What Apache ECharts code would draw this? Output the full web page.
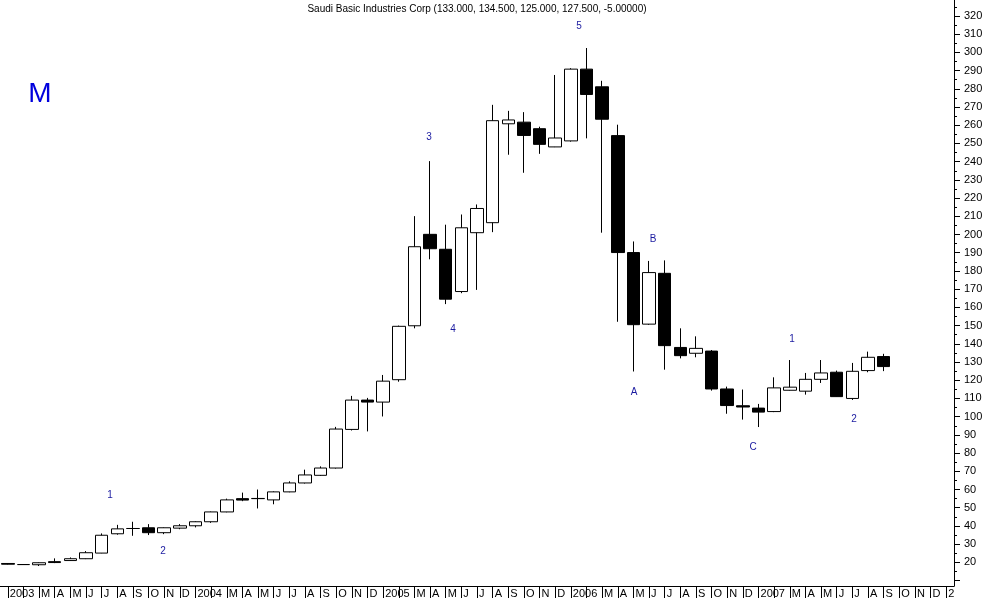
<!DOCTYPE html>
<html><head><meta charset="utf-8">
<script src="https://cdn.jsdelivr.net/npm/echarts@6/dist/echarts.min.js"></script>
<style>html,body{margin:0;padding:0;background:#fff}#c{width:994px;height:599px}</style>
</head><body><div id="c"></div>
<script>
// Monthly categories Jan 2003 .. Jan 2008
const tickLabels = [
  '2003','','M','A','M','J','J','A','S','O','N','D',
  '2004','','M','A','M','J','J','A','S','O','N','D',
  '2005','','M','A','M','J','J','A','S','O','N','D',
  '2006','','M','A','M','J','J','A','S','O','N','D',
  '2007','','M','A','M','J','J','A','S','O','N','D',
  '2008'
];
const months = tickLabels.map((t, i) => (2003 + Math.floor(i / 12)) + '-' + String(i % 12 + 1).padStart(2, '0'));

const openV  = [19.4,18.8,18.7,20.4,21.0,22.0,25.1,35.7,38.6,39.0,36.3,38.8,
                40.1,42.3,47.7,55.0,55.0,54.3,58.7,63.6,67.8,71.8,93.0,109.1,
                108.0,120.3,149.9,200.1,191.9,168.7,201.0,206.5,260.8,261.7,258.1,248.1,
                251.4,290.8,281.1,254.3,190.1,150.8,178.7,138.0,134.8,136.0,115.2,106.0,
                104.7,102.8,114.5,114.0,120.5,124.4,110.0,125.3,133.0];
const closeV = [19.0,18.8,19.8,19.9,22.0,25.3,34.9,38.4,38.6,36.3,39.0,40.1,
                42.3,47.7,54.3,54.2,55.1,58.7,63.6,68.0,71.8,93.2,109.1,108.0,
                119.5,149.6,193.3,192.2,164.5,203.7,214.3,262.5,262.9,254.4,249.5,253.0,
                290.8,276.9,263.3,190.1,150.5,179.1,139.0,133.5,137.5,115.2,106.1,105.3,
                102.5,115.8,116.2,120.5,124.0,111.0,124.9,132.6,127.5];
const lowV   = [18.8,18.6,18.0,19.6,20.8,21.8,25.0,35.2,34.6,35.0,35.5,38.2,
                39.2,41.7,47.5,53.6,49.6,51.9,58.5,63.3,67.5,71.5,92.4,91.9,
                100.1,119.2,148.5,186.4,161.8,167.8,169.6,201.3,243.8,233.9,244.3,248.0,
                251.0,252.8,201.0,152.1,124.8,150.4,125.8,132.0,132.6,114.3,101.6,98.4,
                94.3,102.5,114.3,112.1,118.5,110.8,109.2,124.4,125.0];
const highV  = [19.6,19.0,20.0,22.2,22.7,26.2,35.9,40.6,42.3,41.0,39.2,41.0,
                42.6,47.9,55.0,58.3,60.0,59.0,64.5,70.9,72.7,94.4,111.4,110.3,
                122.9,150.0,210.1,240.3,205.4,211.0,216.5,271.2,267.9,267.2,259.2,287.6,
                291.3,302.4,284.4,260.3,196.2,185.5,185.8,148.5,144.1,136.6,116.5,114.9,
                107.0,121.6,131.1,124.0,131.1,125.3,129.5,135.7,134.5];

const yLabelValues = [20,30,40,50,60,70,80,90,100,110,120,130,140,150,160,170,180,190,200,
                      210,220,230,240,250,260,270,280,290,300,310,320];
const yMajorTicks = [10].concat(yLabelValues);
const yMinorTicks = [15,25,35,45,55,65,75,85,95,105,115,125,135,145,155,165,175,185,195,205,
                     215,225,235,245,255,265,275,285,295,305,315,325];

const titleText = 'Saudi Basic Industries Corp (133.000, 134.500, 125.000, 127.500, -5.00000)';
const waveLabels = [
  {t:'1', x:110, y:495}, {t:'2', x:163, y:551}, {t:'3', x:429, y:137}, {t:'4', x:453, y:329},
  {t:'5', x:579, y:26},  {t:'A', x:634, y:392}, {t:'B', x:653, y:239}, {t:'C', x:753, y:447},
  {t:'1', x:792, y:339}, {t:'2', x:854, y:419}
];

const candles = openV.map((o, i) => [o, closeV[i], lowV[i], highV[i]]);
const FONT = '"Liberation Sans", Arial, sans-serif';
const yMin = 7.03, yMax = 328.76;

const chart = echarts.init(document.getElementById('c'), null, {renderer: 'canvas'});
chart.setOption({
  animation: false,
  backgroundColor: '#fff',
  grid: {left: 0, right: 40, top: 0, bottom: 11.3, containLabel: false},
  xAxis: {
    type: 'category', data: months, boundaryGap: true,
    axisLine: {show: true, lineStyle: {color: '#000', width: 1}},
    axisTick: {show: true, alignWithLabel: true, interval: 0, length: 12, inside: false, lineStyle: {color: '#000'}},
    axisLabel: {
      interval: 0, align: 'left', margin: 2, padding: [0, 0, 0, 2],
      fontFamily: FONT, fontSize: 11, color: '#000',
      formatter: (v, i) => i === tickLabels.length - 1 ? tickLabels[i].slice(0, 1) : tickLabels[i]
    },
    splitLine: {show: false}
  },
  yAxis: [{
    type: 'value', position: 'right', min: yMin, max: yMax,
    axisLine: {show: true, lineStyle: {color: '#000', width: 1}},
    axisTick: {show: true, length: 6, inside: false, customValues: yMajorTicks, lineStyle: {color: '#000'}},
    axisLabel: {show: true, customValues: yLabelValues, margin: 10, align: 'left', verticalAlign: 'middle',
                padding: [4, 0, 0, 0], fontFamily: FONT, fontSize: 11, color: '#000'},
    splitLine: {show: false}
  }, {
    type: 'value', position: 'right', min: yMin, max: yMax,
    axisLine: {show: false},
    axisTick: {show: true, length: 3, inside: false, customValues: yMinorTicks, lineStyle: {color: '#000'}},
    axisLabel: {show: false},
    splitLine: {show: false}
  }],
  series: [{
    type: 'candlestick', data: candles, barWidth: 13, yAxisIndex: 0,
    itemStyle: {color: '#fff', color0: '#000', borderColor: '#000', borderColor0: '#000', borderWidth: 1}
  }],
  graphic: [
    {type: 'text', x: 477, y: 9, style: {text: titleText, align: 'center', verticalAlign: 'middle',
      font: '10px ' + FONT, fill: '#000'}},
    {type: 'text', x: 40, y: 94, style: {text: 'M', align: 'center', verticalAlign: 'middle',
      font: '28px ' + FONT, fill: '#0000dd'}}
  ].concat(waveLabels.map(w => ({type: 'text', x: w.x, y: w.y,
      style: {text: w.t, align: 'center', verticalAlign: 'middle', font: '10px ' + FONT, fill: '#1a1aa0'}})))
});
</script></body></html>
